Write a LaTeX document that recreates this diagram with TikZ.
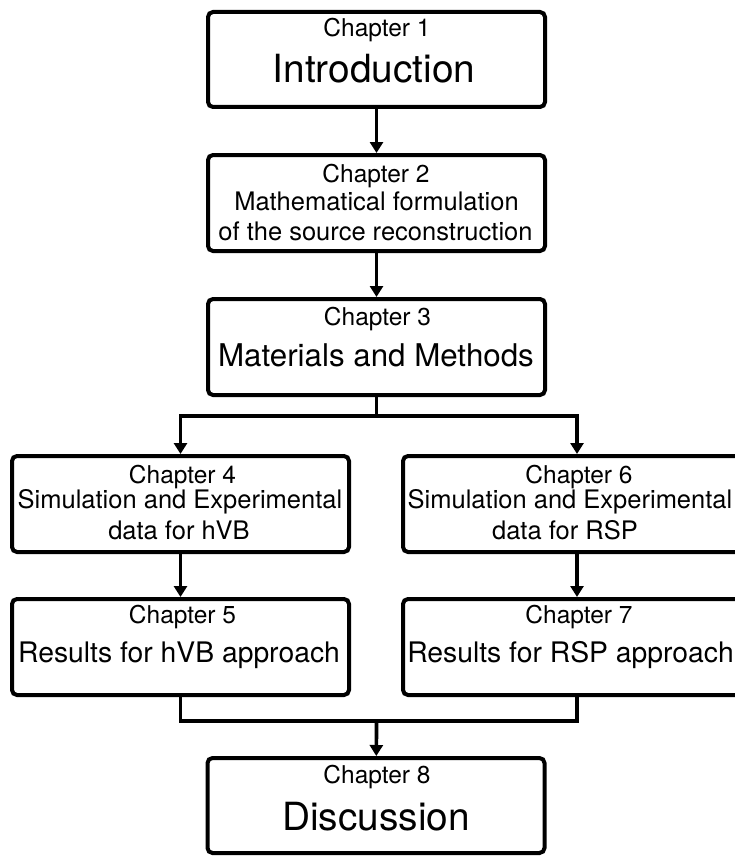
\documentclass[tikz,border=0pt]{standalone}
\usepackage{fontspec}
\setmainfont{TeX Gyre Heros}
\usetikzlibrary{arrows.meta}
\def\chapfont{\fontsize{24.5}{28}\selectfont}
\def\descfont{\fontsize{25.5}{29}\selectfont}
\def\resfont{\fontsize{28.3}{32}\selectfont}
\def\methfont{\fontsize{31.3}{36}\selectfont}
\def\titlefont{\fontsize{38.8}{44}\selectfont}

\begin{document}
\begin{tikzpicture}[x=1pt, y=-1pt,
		chapbox/.style={draw, line width=4pt, rounded corners=5pt, inner sep=0pt, minimum width=337pt, minimum height=96pt},
		txt/.style={anchor=base, inner sep=0pt},
		link/.style={line width=3.7pt, -{Triangle[length=11pt, width=13pt]}},
		joint/.style={line width=3.7pt}]
				\useasboundingbox (0, 0) rectangle (734, 856);
				
				\node[chapbox, minimum height=95pt] (ch1) at (376.5, 59.5) {};
				\node[txt] (t1a) at (377, 37) {\chapfont Chapter 1};
				\node[txt] (t1b) at (374, 83) {\titlefont Introduction};
				
				\node[chapbox] (ch2) at (376.5, 203) {};
				\node[txt] (t2a) at (376, 182) {\chapfont Chapter 2};
				\node[txt] (t2b) at (376.5, 210) {\descfont Mathematical formulation};
				\node[txt] (t2c) at (375.5, 240.5) {\descfont of the source reconstruction};
				
				\node[chapbox] (ch3) at (376.5, 347) {};
				\node[txt] (t3a) at (377.5, 325) {\chapfont Chapter 3};
				\node[txt] (t3b) at (376, 366) {\methfont Materials and Methods};
				
				\node[chapbox] (ch4) at (180.5, 504) {};
				\node[txt] (t4a) at (182.5, 483) {\chapfont Chapter 4};
				\node[txt] (t4b) at (180, 508) {\descfont Simulation and Experimental};
				\node[txt] (t4c) at (179, 539) {\descfont data for hVB};
				
				\node[chapbox] (ch5) at (180.5, 647) {};
				\node[txt] (t5a) at (182.5, 623) {\chapfont Chapter 5};
				\node[txt] (t5b) at (179, 662) {\resfont Results for hVB approach};
				
				\node[chapbox, minimum width=348pt] (ch6) at (577, 504) {};
				\node[txt] (t6a) at (579, 483) {\chapfont Chapter 6};
				\node[txt] (t6b) at (570, 508) {\descfont Simulation and Experimental};
				\node[txt] (t6c) at (565, 539) {\descfont data for RSP};
				
				\node[chapbox, minimum width=348pt] (ch7) at (577, 647) {};
				\node[txt] (t7a) at (579, 623) {\chapfont Chapter 7};
				\node[txt] (t7b) at (570.5, 662) {\resfont Results for RSP approach};
				
				\node[chapbox, minimum height=95pt] (ch8) at (376, 805.5) {};
				\node[txt] (t8a) at (377, 783) {\chapfont Chapter 8};
				\node[txt] (t8b) at (376, 830) {\titlefont Discussion};
				
				\draw[link] (ch1) -- (ch2);
				\draw[link] (ch2) -- (ch3);
				
				\coordinate (split) at (376.5, 416);
				\draw[joint] (ch3.south) -- (split);
				\draw[link] (split) -| (ch4.north);
				\draw[link] (split) -| (ch6.north);
				\draw[link] (ch4) -- (ch5);
				\draw[link] (ch6) -- (ch7);
				
				\coordinate (merge) at (376.5, 721);
				\draw[joint] (ch5.south) |- (merge) -| (ch7.south);
				\draw[link] (merge) -- (ch8);
			\end{tikzpicture}
\end{document}
